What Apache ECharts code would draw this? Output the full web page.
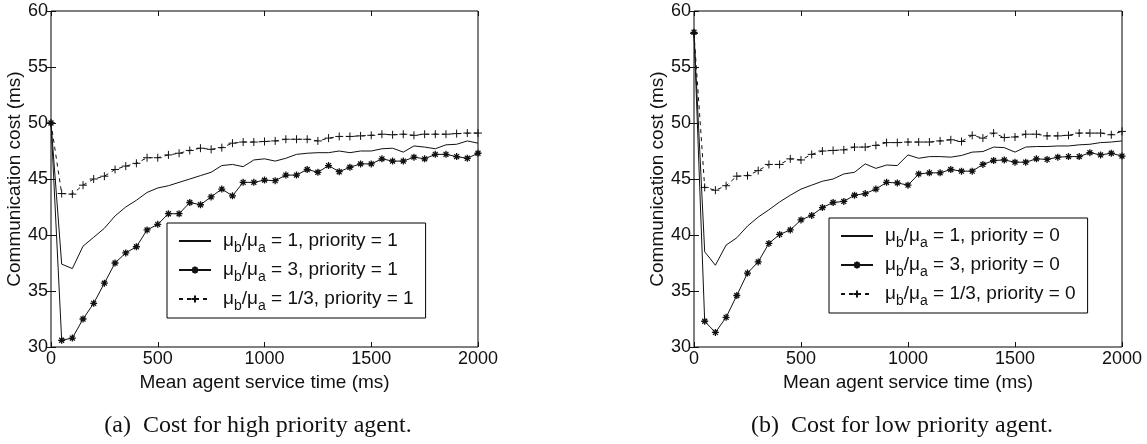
<!DOCTYPE html>
<html>
<head>
<meta charset="utf-8">
<script src="https://cdn.jsdelivr.net/npm/echarts@6/dist/echarts.min.js"></script>
<style>
  html, body { margin: 0; padding: 0; background: #fff; }
  #chart { width: 1147px; height: 444px; }
</style>
</head>
<body>
<div id="chart"></div>
<script>
// mean agent service time (ms)
const serviceTimes = [0, 50, 100, 150, 200, 250, 300, 350, 400, 450, 500, 550, 600, 650, 700, 750, 800, 850, 900, 950,
  1000, 1050, 1100, 1150, 1200, 1250, 1300, 1350, 1400, 1450, 1500, 1550, 1600, 1650, 1700, 1750, 1800, 1850, 1900, 1950, 2000];

// (a) high priority agent
const highRatio1 = [50, 37.4, 37.0, 39.0, 39.8, 40.6, 41.7, 42.5, 43.1, 43.8, 44.2, 44.4, 44.7, 45.0, 45.3, 45.6, 46.2, 46.3, 46.1, 46.7,
  46.8, 46.6, 46.85, 47.2, 47.3, 47.35, 47.35, 47.5, 47.35, 47.5, 47.5, 47.7, 47.75, 47.4, 47.95, 47.85, 47.7, 48.05, 48.1, 48.4, 48.2];
const highRatio3 = [50, 30.6, 30.8, 32.5, 33.9, 35.7, 37.5, 38.4, 38.95, 40.45, 40.95, 41.9, 41.9, 42.9, 42.7, 43.4, 44.1, 43.5, 44.7, 44.7,
  44.9, 44.85, 45.35, 45.35, 45.85, 45.6, 46.2, 45.65, 46.05, 46.35, 46.35, 46.8, 46.6, 46.6, 46.95, 46.8, 47.2, 47.2, 47.0, 46.85, 47.3];
const highRatio13 = [50, 43.7, 43.65, 44.45, 45.0, 45.25, 45.85, 46.15, 46.4, 46.9, 46.9, 47.15, 47.3, 47.55, 47.75, 47.65, 47.8, 48.2, 48.3, 48.3,
  48.35, 48.4, 48.55, 48.55, 48.55, 48.4, 48.65, 48.8, 48.8, 48.85, 48.9, 49.0, 48.95, 49.0, 48.9, 49.0, 49.0, 49.0, 49.05, 49.1, 49.1];

// (b) low priority agent
const lowRatio1 = [58, 38.5, 37.3, 39.1, 39.75, 40.8, 41.6, 42.25, 42.95, 43.55, 44.1, 44.45, 44.8, 45.0, 45.45, 45.6, 46.35, 45.95, 46.25, 46.2,
  47.15, 46.85, 47.0, 47.0, 46.95, 47.1, 47.4, 47.45, 47.85, 47.8, 47.4, 47.85, 47.9, 47.9, 47.95, 47.95, 48.05, 48.1, 48.25, 48.3, 48.4];
const lowRatio3 = [58.1, 32.3, 31.3, 32.65, 34.6, 36.6, 37.6, 39.25, 40.05, 40.45, 41.35, 41.75, 42.45, 42.9, 43.0, 43.55, 43.7, 44.1, 44.7, 44.65,
  44.45, 45.45, 45.55, 45.55, 45.85, 45.7, 45.7, 46.3, 46.65, 46.7, 46.5, 46.5, 46.8, 46.75, 46.95, 47.0, 47.0, 47.35, 47.15, 47.3, 47.05];
const lowRatio13 = [58, 44.25, 44.0, 44.4, 45.25, 45.3, 45.75, 46.3, 46.3, 46.8, 46.7, 47.2, 47.5, 47.55, 47.6, 47.85, 47.85, 48.0, 48.25, 48.25,
  48.3, 48.3, 48.3, 48.4, 48.5, 48.35, 48.9, 48.65, 49.1, 48.7, 48.75, 49.0, 49.0, 48.85, 48.85, 48.9, 49.1, 49.1, 49.1, 48.95, 49.25];

const ratioLabels = ["1", "3", "1/3"];
const captions = ["(a)  Cost for high priority agent.", "(b)  Cost for low priority agent."];
const xName = "Mean agent service time (ms)";
const yName = "Communication cost (ms)";

const FONT = "Liberation Sans, Arial, Helvetica, sans-serif";
const SERIF = "Liberation Serif, Times New Roman, serif";
const INK = "#111";

const plusPath = "path://M5,0L5,10M0,5L10,5";
const starPath = "path://M5,0L5,10M0,5L10,5M1.5,1.5L8.5,8.5M1.5,8.5L8.5,1.5";

function pairs(ys) {
  return serviceTimes.map((x, i) => [x, ys[i]]);
}

function xAxes(gridIndex) {
  return [
    {
      gridIndex, type: "value", min: 0, max: 2000, interval: 500, position: "bottom",
      name: xName, nameLocation: "middle", nameGap: 21,
      nameTextStyle: { fontFamily: FONT, fontSize: 19, color: INK },
      axisLine: { show: false },
      axisTick: { show: true, inside: true, length: 5, lineStyle: { color: INK } },
      axisLabel: { fontFamily: FONT, fontSize: 18, color: INK, margin: 3, formatter: (v) => String(v) },
      splitLine: { show: false },
    },
    {
      gridIndex, type: "value", min: 0, max: 2000, interval: 500, position: "top",
      axisLine: { show: false },
      axisTick: { show: true, inside: true, length: 5, lineStyle: { color: INK } },
      axisLabel: { show: false },
      splitLine: { show: false },
    },
  ];
}

function yAxes(gridIndex) {
  return [
    {
      gridIndex, type: "value", min: 30, max: 60, interval: 5, position: "left",
      name: yName, nameLocation: "middle", nameGap: 27,
      nameTextStyle: { fontFamily: FONT, fontSize: 19, color: INK },
      axisLine: { show: false },
      axisTick: { show: true, inside: true, length: 5, lineStyle: { color: INK } },
      axisLabel: { fontFamily: FONT, fontSize: 18, color: INK, margin: 3 },
      splitLine: { show: false },
    },
    {
      gridIndex, type: "value", min: 30, max: 60, interval: 5, position: "right",
      axisLine: { show: false },
      axisTick: { show: true, inside: true, length: 5, lineStyle: { color: INK } },
      axisLabel: { show: false },
      splitLine: { show: false },
    },
  ];
}

function makeSeries(prefix, axisBase, r1, r3, r13) {
  return [
    {
      name: prefix + "1", type: "line", xAxisIndex: axisBase, yAxisIndex: axisBase,
      data: pairs(r1), symbol: "none",
      lineStyle: { color: INK, width: 1 }, itemStyle: { color: INK },
      animation: false,
    },
    {
      name: prefix + "3", type: "line", xAxisIndex: axisBase, yAxisIndex: axisBase,
      data: pairs(r3), symbol: starPath, symbolSize: 7, showAllSymbol: true,
      lineStyle: { color: INK, width: 1 },
      itemStyle: { color: INK, borderColor: INK, borderWidth: 1.3 },
      animation: false,
    },
    {
      name: prefix + "13", type: "line", xAxisIndex: axisBase, yAxisIndex: axisBase,
      data: pairs(r13), symbol: plusPath, symbolSize: 8, showAllSymbol: true,
      lineStyle: { color: INK, width: 1, type: [4, 4] },
      itemStyle: { color: INK, borderColor: INK, borderWidth: 1 },
      animation: false,
    },
  ];
}

function legendFor(prefix, priority, left, top) {
  return {
    orient: "vertical",
    left, top,
    data: [
      { name: prefix + "1", itemStyle: { opacity: 0 } },
      { name: prefix + "3" },
      { name: prefix + "13" },
    ],
    backgroundColor: "#fff",
    borderColor: "#000",
    borderWidth: 1,
    borderRadius: 0,
    padding: [4, 12, 5, 11],
    itemWidth: 32,
    itemHeight: 9,
    itemGap: 1,
    selectedMode: false,
    formatter: function (name) {
      const idx = name.endsWith("13") ? 2 : name.endsWith("3") ? 1 : 0;
      return "{g|}{t|\u03bc}{s|b}{t|/\u03bc}{s|a}{t| = " + ratioLabels[idx] + ", priority = " + priority + "}";
    },
    textStyle: {
      rich: {
        g: { width: 7 },
        t: { fontFamily: FONT, fontSize: 19, color: INK, lineHeight: 22 },
        s: { fontFamily: FONT, fontSize: 14, color: INK, padding: [14, 0, 0, 0], lineHeight: 22 },
      },
    },
  };
}

const chart = echarts.init(document.getElementById("chart"), null, { renderer: "canvas" });

chart.setOption({
  backgroundColor: "#fff",
  animation: false,
  title: [
    {
      text: captions[0], left: 253, top: 409, textAlign: "center",
      textStyle: { fontFamily: SERIF, fontSize: 24, fontWeight: "normal", color: INK },
    },
    {
      text: captions[1], left: 897, top: 409, textAlign: "center",
      textStyle: { fontFamily: SERIF, fontSize: 24, fontWeight: "normal", color: INK },
    },
  ],
  grid: [
    { left: 51, right: 669, top: 11, bottom: 97, show: true, borderColor: "#000", borderWidth: 1, backgroundColor: "#fff" },
    { left: 694, right: 25, top: 11, bottom: 97, show: true, borderColor: "#000", borderWidth: 1, backgroundColor: "#fff" },
  ],
  xAxis: [...xAxes(0), ...xAxes(1)],
  yAxis: [...yAxes(0), ...yAxes(1)],
  legend: [
    legendFor("a", 1, 167, 223),
    legendFor("b", 0, 829, 218),
  ],
  series: [
    ...makeSeries("a", 0, highRatio1, highRatio3, highRatio13),
    ...makeSeries("b", 2, lowRatio1, lowRatio3, lowRatio13),
  ],
});
</script>
</body>
</html>
